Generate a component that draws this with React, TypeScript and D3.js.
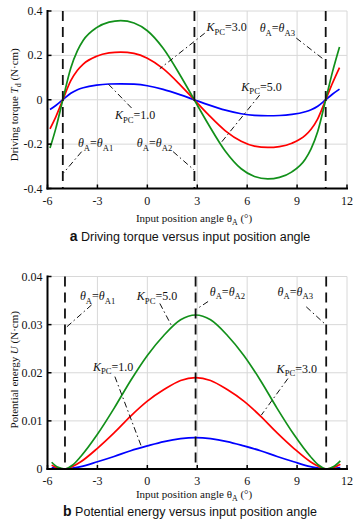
import * as d3 from "d3";

// shared x axis
const angleTicks = [-6, -3, 0, 3, 6, 9, 12];

// (a) driving torque, N·cm
const torqueTicks = [-0.4, -0.2, 0, 0.2, 0.4];
const torqueZeros = [-5.08, 2.83, 10.72];
const torqueAngle = [-5.85, -5.5, -5.08, -4.6, -4.2, -3.85, -3.05, -2.3, -1.6, -0.8, 0, 0.95, 2.0, 2.82, 3.64, 4.69, 5.64, 6.44, 7.24, 7.94, 8.69, 9.49, 9.84, 10.24, 10.72, 11.14, 11.55];
const torqueK5 = [-0.218, -0.129, 0, 0.143, 0.221, 0.268, 0.325, 0.35, 0.357, 0.346, 0.311, 0.232, 0.107, 0, -0.107, -0.232, -0.311, -0.346, -0.357, -0.35, -0.325, -0.268, -0.221, -0.143, 0, 0.129, 0.238];
const torqueK3 = [-0.131, -0.077, 0, 0.086, 0.133, 0.161, 0.196, 0.211, 0.215, 0.209, 0.187, 0.14, 0.065, 0, -0.065, -0.14, -0.187, -0.209, -0.215, -0.211, -0.196, -0.161, -0.133, -0.086, 0, 0.077, 0.145];
const torqueK1 = [-0.044, -0.026, 0, 0.029, 0.045, 0.054, 0.066, 0.071, 0.072, 0.07, 0.063, 0.047, 0.022, 0, -0.022, -0.047, -0.063, -0.07, -0.072, -0.071, -0.066, -0.054, -0.045, -0.029, 0, 0.026, 0.048];

// (b) potential energy, N·cm
const energyTicks = [0, 0.01, 0.02, 0.03, 0.04];
const energyMinima = [-4.95, 2.9, 10.75];
const energyAngle = [-5.75, -5.4, -4.95, -4.5, -4, -3, -2, -1, 0, 1, 2, 2.9, 3.8, 4.8, 5.8, 6.8, 7.8, 8.8, 9.8, 10.3, 10.75, 11.2, 11.6];
const energyK5 = [0.0014, 0.0004, 0, 0.0008, 0.0026, 0.0072, 0.0126, 0.0184, 0.0236, 0.0278, 0.031, 0.032, 0.031, 0.0278, 0.0236, 0.0184, 0.0126, 0.0072, 0.0026, 0.0008, 0, 0.0005, 0.0017];
const energyK3 = [0.0008, 0.0002, 0, 0.0005, 0.0015, 0.0043, 0.0075, 0.011, 0.0141, 0.0165, 0.0184, 0.019, 0.0184, 0.0165, 0.0141, 0.011, 0.0075, 0.0043, 0.0015, 0.0005, 0, 0.0003, 0.001];
const energyK1 = [0.0003, 0.0001, 0, 0.0002, 0.0005, 0.0015, 0.0026, 0.0038, 0.0048, 0.0057, 0.0063, 0.0065, 0.0063, 0.0057, 0.0048, 0.0038, 0.0026, 0.0015, 0.0005, 0.0002, 0, 0.0001, 0.0003];

const seriesColors = ["#0000ff", "#ff0000", "#12901a"];

type Seg = { t: string; it?: boolean; sub?: boolean };
type Note = { label: Seg[]; at: [number, number]; from: [number, number]; to: [number, number] };

const kpc = (v: string): Seg[] => [{ t: "K", it: true }, { t: "PC", sub: true }, { t: "=" + v }];
const thetaEq = (i: string): Seg[] => [
  { t: "θ", it: true },
  { t: "A", sub: true },
  { t: "=" },
  { t: "θ", it: true },
  { t: "A" + i, sub: true },
];

const torqueNotes: Note[] = [
  { label: kpc("3.0"), at: [3.55, 0.31], from: [3.45, 0.3], to: [0.75, 0.14] },
  { label: thetaEq("3"), at: [6.75, 0.305], from: [8.95, 0.278], to: [10.65, 0.179] },
  { label: kpc("5.0"), at: [5.65, 0.04], from: [6.75, 0.021], to: [4.47, -0.19] },
  { label: kpc("1.0"), at: [-1.95, -0.087], from: [-0.95, -0.037], to: [-2.35, 0.071] },
  { label: thetaEq("1"), at: [-4.17, -0.213], from: [-3.95, -0.234], to: [-5.05, -0.331] },
  { label: thetaEq("2"), at: [-0.63, -0.213], from: [1.55, -0.234], to: [2.8, -0.316] },
];

const energyNotes: Note[] = [
  { label: thetaEq("1"), at: [-4.05, 0.0351], from: [-3.35, 0.0341], to: [-4.95, 0.0292] },
  { label: kpc("5.0"), at: [-0.63, 0.0351], from: [0.75, 0.0344], to: [1.45, 0.0298] },
  { label: kpc("1.0"), at: [-3.27, 0.0204], from: [-1.95, 0.0192], to: [-0.35, 0.0046] },
  { label: thetaEq("2"), at: [3.75, 0.036], from: [3.65, 0.0348], to: [2.95, 0.0332] },
  { label: thetaEq("3"), at: [7.83, 0.036], from: [9.55, 0.0337], to: [10.75, 0.0299] },
  { label: kpc("3.0"), at: [7.77, 0.02], from: [8.45, 0.0188], to: [6.85, 0.0112] },
];

const serif = "'Liberation Serif', 'Times New Roman', serif";
const sans = "'Liberation Sans', Arial, sans-serif";

function RichText({ x, y, segs, size, anchor }: { x: number; y: number; segs: Seg[]; size: number; anchor?: string }) {
  let shifted = false;
  return (
    <text x={x} y={y} fontFamily={serif} fontSize={size} textAnchor={anchor || "start"} fill="#111">
      {segs.map((s, i) => {
        let dy = 0;
        if (s.sub && !shifted) { dy = size * 0.3; shifted = true; }
        else if (!s.sub && shifted) { dy = -size * 0.3; shifted = false; }
        return (
          <tspan key={i} dy={dy} fontStyle={s.it ? "italic" : "normal"} fontSize={s.sub ? size * 0.72 : size}>
            {s.t}
          </tspan>
        );
      })}
    </text>
  );
}

function Panel(props: {
  top: number; bottom: number; yTicks: number[]; yFmt: (v: number) => string;
  angle: number[]; series: number[][]; marks: number[]; notes: Note[];
  yTitle: Seg[]; yTitleShift: number; tag: string; caption: string; titleGap: number; captionGap: number;
}) {
  const { top, bottom, yTicks, yFmt, angle, series, marks, notes, yTitle, yTitleShift, tag, caption, titleGap, captionGap } = props;
  const left = 47.5;
  const right = 347;
  const x = d3.scaleLinear().domain([-6, 12]).range([left, right]);
  const y = d3.scaleLinear().domain(d3.extent(yTicks) as [number, number]).range([bottom, top]);
  const line = d3.line<number>().x((_, i) => x(angle[i])).y((d) => y(d)).curve(d3.curveMonotoneX);

  return (
    <g>
      {/* grid */}
      {angleTicks.map((t) => (
        <line key={"gx" + t} x1={x(t)} x2={x(t)} y1={top} y2={bottom} stroke="#d8d8d8" strokeWidth={1} />
      ))}
      {yTicks.map((t) => (
        <line key={"gy" + t} x1={left} x2={right} y1={y(t)} y2={y(t)} stroke="#d8d8d8" strokeWidth={1} />
      ))}

      {/* curves */}
      {series.map((s, i) => (
        <path key={"s" + i} d={line(s) || ""} fill="none" stroke={seriesColors[i]} strokeWidth={1.7} />
      ))}

      {/* equilibrium positions */}
      {marks.map((m) => (
        <line key={"m" + m} x1={x(m)} x2={x(m)} y1={top} y2={bottom} stroke="#111" strokeWidth={1.8} strokeDasharray="10,6" />
      ))}

      {/* leaders and labels */}
      {notes.map((n, i) => (
        <g key={"n" + i}>
          <line x1={x(n.from[0])} y1={y(n.from[1])} x2={x(n.to[0])} y2={y(n.to[1])} stroke="#111" strokeWidth={1} strokeDasharray="6,3,1.5,3" />
          <RichText x={x(n.at[0])} y={y(n.at[1])} segs={n.label} size={12} />
        </g>
      ))}

      {/* axes */}
      <line x1={left} x2={left} y1={top - 1} y2={bottom + 1} stroke="#000" strokeWidth={2} />
      <line x1={left - 1} x2={right + 1} y1={bottom} y2={bottom} stroke="#000" strokeWidth={2} />
      {yTicks.map((t) => (
        <g key={"ty" + t}>
          <line x1={left} x2={left + 4} y1={y(t)} y2={y(t)} stroke="#000" strokeWidth={1.5} />
          <text x={left - 5} y={y(t) + 4} textAnchor="end" fontFamily={serif} fontSize={12} fill="#111">
            {yFmt(t)}
          </text>
        </g>
      ))}
      {angleTicks.map((t) => (
        <g key={"tx" + t}>
          <line x1={x(t)} x2={x(t)} y1={bottom} y2={bottom - 4} stroke="#000" strokeWidth={1.5} />
          <text x={x(t)} y={bottom + 16} textAnchor="middle" fontFamily={serif} fontSize={12} fill="#111">
            {t}
          </text>
        </g>
      ))}

      {/* titles */}
      <g transform={`translate(18, ${(top + bottom) / 2 + yTitleShift}) rotate(-90)`}>
        <RichText x={0} y={0} segs={yTitle} size={11} anchor="middle" />
      </g>
      <RichText
        x={194}
        y={bottom + titleGap}
        segs={[{ t: "Input position angle θ" }, { t: "A", sub: true }, { t: " (°)" }]}
        size={11}
        anchor="middle"
      />
      <text x={190} y={bottom + captionGap} textAnchor="middle" fontFamily={sans} fontSize={12.5} fill="#111">
        <tspan fontWeight="bold" fontSize={14}>{tag}</tspan>
        <tspan>{"  " + caption}</tspan>
      </text>
    </g>
  );
}

export default function App() {
  return (
    <svg width={360} height={522} style={{ position: "absolute", left: 0, top: 0, background: "#fff" }}>
      <Panel
        top={11}
        bottom={188.5}
        yTicks={torqueTicks}
        yFmt={(v) => (v === 0 ? "0" : String(v))}
        angle={torqueAngle}
        series={[torqueK1, torqueK3, torqueK5]}
        marks={torqueZeros}
        notes={torqueNotes}
        yTitle={[{ t: "Driving torque " }, { t: "T", it: true }, { t: "d", sub: true }, { t: " (N·cm)" }]}
        yTitleShift={5}
        tag="a"
        caption="Driving torque versus input position angle"
        titleGap={33}
        captionGap={52}
      />
      <Panel
        top={276.5}
        bottom={469}
        yTicks={energyTicks}
        yFmt={(v) => (v === 0 ? "0" : v.toFixed(2))}
        angle={energyAngle}
        series={[energyK1, energyK3, energyK5]}
        marks={energyMinima}
        notes={energyNotes}
        yTitle={[{ t: "Potential energy " }, { t: "U", it: true }, { t: " (N·cm)" }]}
        yTitleShift={-3}
        tag="b"
        caption="Potential energy versus input position angle"
        titleGap={29}
        captionGap={47}
      />
    </svg>
  );
}
